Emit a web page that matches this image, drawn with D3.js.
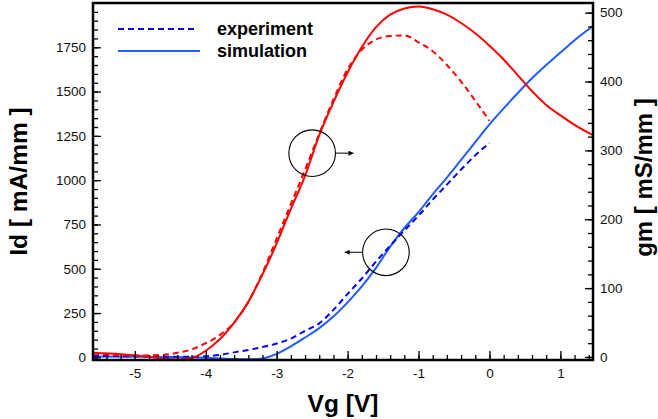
<!DOCTYPE html>
<html>
<head>
<meta charset="utf-8">
<script src="https://cdn.jsdelivr.net/npm/d3@7"></script>
<style>
  body { margin: 0; background: #fff; }
  text { font-family: "Liberation Sans", Arial, sans-serif; }
</style>
</head>
<body>
<div id="chart"></div>
<script>
// gate voltage grid for each curve
const vgExpGm = [-5.59, -5.0, -4.6, -4.4, -4.2, -4.0, -3.8, -3.6, -3.4, -3.2, -3.0, -2.8, -2.6, -2.4, -2.2, -2.0, -1.8, -1.6, -1.4, -1.2, -1.0, -0.8, -0.6, -0.4, -0.2, 0];
const gmExp = [5, 2, 3, 6, 11, 20, 32, 50, 80, 122, 172, 222, 272, 324, 374, 418, 446, 461, 466, 467, 457, 444, 424, 400, 372, 343];

const vgSimGm = [-5.59, -5.2, -5.0, -4.8, -4.6, -4.4, -4.2, -4.0, -3.8, -3.6, -3.4, -3.2, -3.0, -2.8, -2.6, -2.4, -2.2, -2.0, -1.8, -1.6, -1.4, -1.2, -1.0, -0.8, -0.6, -0.4, -0.2, 0, 0.2, 0.4, 0.6, 0.8, 1.0, 1.2, 1.46];
const gmSim = [6, 4, 2.5, 0, -2.5, -3.5, -1.5, 9, 26, 50, 80, 120, 165, 215, 263, 322, 370, 413, 450, 479, 497, 506, 509, 505, 497, 485, 470, 452, 432, 409, 386, 366, 351, 337, 322];

const vgExpId = [-5.59, -5.0, -4.5, -4.2, -4.0, -3.8, -3.6, -3.4, -3.2, -3.0, -2.8, -2.6, -2.4, -2.2, -2.0, -1.8, -1.6, -1.4, -1.2, -1.0, -0.8, -0.6, -0.4, -0.2, 0];
const idExp = [8, 6, 3, 3, 6, 14, 28, 42, 58, 78, 106, 150, 192, 268, 358, 445, 540, 630, 715, 800, 890, 975, 1060, 1140, 1210];

const vgSimId = [-5.59, -5.0, -4.5, -4.0, -3.6, -3.4, -3.2, -3.0, -2.8, -2.6, -2.4, -2.2, -2.0, -1.8, -1.6, -1.4, -1.2, -1.0, -0.8, -0.6, -0.4, -0.2, 0, 0.2, 0.4, 0.6, 0.8, 1.0, 1.2, 1.46];
const idSim = [5, 4, 2, -3, -9, -11, -6, 20, 62, 112, 165, 230, 310, 400, 505, 625, 730, 820, 920, 1015, 1115, 1215, 1315, 1405, 1492, 1575, 1650, 1720, 1790, 1870];

const xTicks = [-5, -4, -3, -2, -1, 0, 1];
const idTicks = [0, 250, 500, 750, 1000, 1250, 1500, 1750];
const gmTicks = [0, 100, 200, 300, 400, 500];

const legendNames = ["experiment", "simulation"];

const W = 658, H = 419;
const margin = { left: 93, right: 593, top: 3, bottom: 360 };

const svg = d3.select("#chart").append("svg")
  .attr("width", W)
  .attr("height", H);

const x = d3.scaleLinear().domain([-5.59, 1.46]).range([margin.left, margin.right]);
const yId = d3.scaleLinear().domain([-15, 2000]).range([margin.bottom, margin.top]);
const yGm = d3.scaleLinear().domain([-4.4, 514]).range([margin.bottom, margin.top]);

svg.append("clipPath").attr("id", "plotclip")
  .append("rect")
  .attr("x", margin.left).attr("y", margin.top)
  .attr("width", margin.right - margin.left).attr("height", margin.bottom - margin.top);

const plot = svg.append("g").attr("clip-path", "url(#plotclip)");

function drawCurve(xs, ys, yScale, color, dash) {
  const line = d3.line()
    .x(d => x(d[0]))
    .y(d => yScale(d[1]))
    .curve(d3.curveMonotoneX);
  plot.append("path")
    .datum(xs.map((v, i) => [v, ys[i]]))
    .attr("d", line)
    .attr("fill", "none")
    .attr("stroke", color)
    .attr("stroke-width", 2)
    .attr("stroke-dasharray", dash ? "6,4" : null);
}

const red = "#ff0000";
const blueDash = "#0000ff";
const blueSolid = "#1f5cff";

drawCurve(vgSimId, idSim, yId, blueSolid, false);
drawCurve(vgExpId, idExp, yId, blueDash, true);
drawCurve(vgSimGm, gmSim, yGm, red, false);
drawCurve(vgExpGm, gmExp, yGm, red, true);

// axes
function styleAxis(g) {
  g.select(".domain").remove();
  g.selectAll(".tick line").attr("stroke", "#000").attr("stroke-width", 1.3);
  g.selectAll(".tick text").attr("fill", "#111").style("font-size", "13.5px")
    .style("font-family", '"Liberation Sans", Arial, sans-serif');
}

const fmt = d => String(d);

svg.append("g")
  .attr("transform", `translate(0,${margin.bottom})`)
  .call(d3.axisBottom(x).tickValues(d3.range(-54, 15, 2).map(d => d / 10)).tickSize(-5).tickFormat(""))
  .call(styleAxis);
svg.append("g")
  .attr("transform", `translate(0,${margin.bottom})`)
  .call(d3.axisBottom(x).tickValues(xTicks).tickSize(-9).tickPadding(8).tickFormat(fmt))
  .call(styleAxis);

svg.append("g")
  .attr("transform", `translate(${margin.left},0)`)
  .call(d3.axisLeft(yId).tickValues(d3.range(0, 2000, 50)).tickSize(-5).tickFormat(""))
  .call(styleAxis);
svg.append("g")
  .attr("transform", `translate(${margin.left},0)`)
  .call(d3.axisLeft(yId).tickValues(idTicks).tickSize(-8).tickPadding(7).tickFormat(fmt))
  .call(styleAxis);

svg.append("g")
  .attr("transform", `translate(${margin.right},0)`)
  .call(d3.axisRight(yGm).tickValues(d3.range(0, 514, 20)).tickSize(-5).tickFormat(""))
  .call(styleAxis);
svg.append("g")
  .attr("transform", `translate(${margin.right},0)`)
  .call(d3.axisRight(yGm).tickValues(gmTicks).tickSize(-8).tickPadding(7).tickFormat(fmt))
  .call(styleAxis);

// frame
svg.append("rect")
  .attr("x", margin.left).attr("y", margin.top)
  .attr("width", margin.right - margin.left).attr("height", margin.bottom - margin.top)
  .attr("fill", "none")
  .attr("stroke", "#000")
  .attr("stroke-width", 2.5);

// axis titles
const midY = (margin.top + margin.bottom) / 2;
svg.append("text")
  .attr("transform", `translate(27,${midY}) rotate(-90)`)
  .attr("text-anchor", "middle")
  .style("font-size", "24.5px").style("font-weight", "bold")
  .text("Id [ mA/mm ]");

svg.append("text")
  .attr("transform", `translate(652,${midY - 4}) rotate(-90)`)
  .attr("text-anchor", "middle")
  .style("font-size", "24px").style("font-weight", "bold")
  .text("gm [ mS/mm ]");

svg.append("text")
  .attr("x", 343)
  .attr("y", 412)
  .attr("text-anchor", "middle")
  .style("font-size", "24.5px").style("font-weight", "bold")
  .text("Vg [V]");

// legend
const legend = svg.append("g").attr("transform", "translate(118,29)");
legendNames.forEach((name, i) => {
  legend.append("line")
    .attr("x1", 0).attr("x2", i === 0 ? 80 : 82)
    .attr("y1", i * 22).attr("y2", i * 22)
    .attr("stroke", i === 0 ? blueDash : blueSolid)
    .attr("stroke-width", 2)
    .attr("stroke-dasharray", i === 0 ? "6,4" : null);
  legend.append("text")
    .attr("x", 99).attr("y", i * 22 + 6)
    .style("font-size", "18px").style("font-weight", "bold")
    .text(name);
});

// circle markers with arrows pointing to the relevant axis
svg.append("defs").append("marker")
  .attr("id", "arrowhead")
  .attr("viewBox", "0 0 10 10")
  .attr("refX", 10).attr("refY", 5)
  .attr("markerWidth", 7).attr("markerHeight", 5)
  .attr("markerUnits", "userSpaceOnUse")
  .attr("orient", "auto")
  .append("path")
  .attr("d", "M0,0L10,5L0,10z")
  .attr("fill", "#000");

const r = 23.3;
const c1 = [x(-2.5), yGm(296)];
const c2 = [x(-1.46), yId(593)];

svg.append("circle").attr("cx", c1[0]).attr("cy", c1[1]).attr("r", r)
  .attr("fill", "none").attr("stroke", "#000").attr("stroke-width", 1.1);
svg.append("line")
  .attr("x1", c1[0] + r).attr("y1", c1[1])
  .attr("x2", c1[0] + r + 18).attr("y2", c1[1])
  .attr("stroke", "#000").attr("stroke-width", 1)
  .attr("marker-end", "url(#arrowhead)");

svg.append("circle").attr("cx", c2[0]).attr("cy", c2[1]).attr("r", r)
  .attr("fill", "none").attr("stroke", "#000").attr("stroke-width", 1.1);
svg.append("line")
  .attr("x1", c2[0] - r).attr("y1", c2[1])
  .attr("x2", c2[0] - r - 18).attr("y2", c2[1])
  .attr("stroke", "#000").attr("stroke-width", 1)
  .attr("marker-end", "url(#arrowhead)");
</script>
</body>
</html>
